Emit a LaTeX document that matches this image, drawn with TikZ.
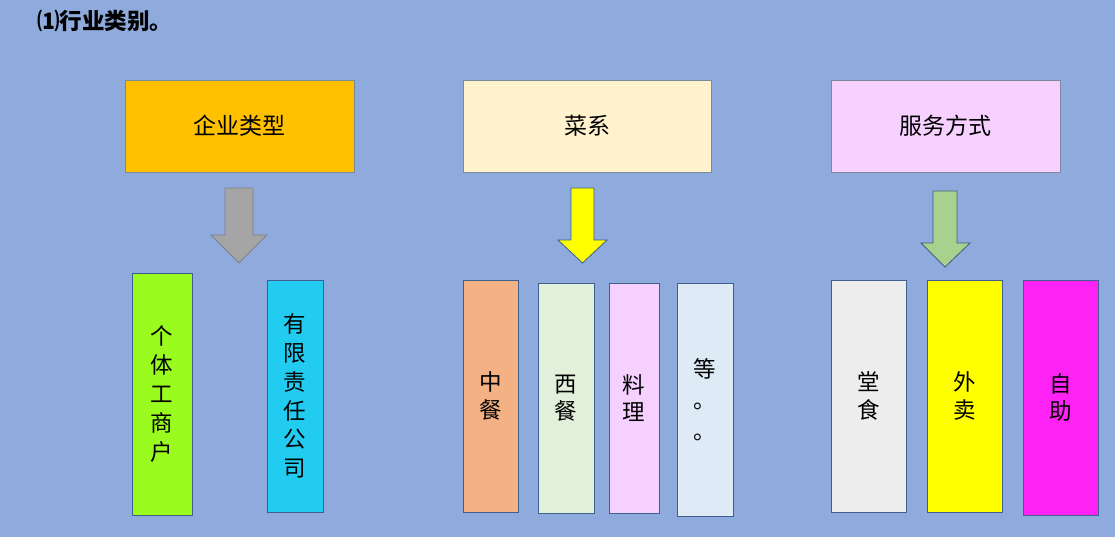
\documentclass[tikz,border=0pt]{standalone}
\usepackage{fontspec}
\newfontfamily\cjk{Noto Sans CJK SC}
\begin{document}
\begin{tikzpicture}[x=1pt,y=-1pt,
  every node/.style={font=\cjk},
  topbox/.style={draw=#1, line width=0.8pt, minimum width=229pt, minimum height=92pt, inner sep=0pt, font=\cjk\fontsize{23}{26}\selectfont},
  topbox/.default={black!45!blue!30!gray},
  colbox/.style={draw=boxline, line width=0.8pt, inner sep=0pt, align=center, font=\cjk\fontsize{22.5}{28.8}\selectfont},
  twochar/.style={font=\cjk\fontsize{22.5}{27.5}\selectfont},
  blockarrow/.style={line width=0.8pt, line join=miter}
]
\definecolor{bg}{HTML}{8FAADC}
\definecolor{boxline}{HTML}{3F5F8F}
\definecolor{topline}{HTML}{7A8A9A}
\definecolor{cOrange}{HTML}{FFC000}
\definecolor{cCream}{HTML}{FFF2CC}
\definecolor{cLilac}{HTML}{F6D0FE}
\definecolor{cLime}{HTML}{99FC1E}
\definecolor{cCyan}{HTML}{22CCF0}
\definecolor{cSalmon}{HTML}{F4B183}
\definecolor{cMint}{HTML}{E2EFDA}
\definecolor{cIce}{HTML}{DEEBF7}
\definecolor{cGrey}{HTML}{EDEDED}
\definecolor{cYellow}{HTML}{FFFF00}
\definecolor{cMagenta}{HTML}{FF22F5}
\definecolor{aGrey}{HTML}{A5A5A5}
\definecolor{aGreyLine}{HTML}{7F7F8A}
\definecolor{aGreen}{HTML}{A9D18E}
\definecolor{aLine}{HTML}{3F5F7F}

\useasboundingbox (0,0) rectangle (1115,537);
\fill[bg] (0,0) rectangle (1115,537);

% title
\node[anchor=west, font=\cjk\bfseries\fontsize{22.5}{26}\selectfont, inner sep=0pt] (title) at (37,21) {⑴行业类别。};

% top boxes
\node[topbox=topline, fill=cOrange] (qiye) at (239.5,126) {企业类型};
\node[topbox=topline, fill=cCream, minimum width=248pt] (caixi) at (587,126) {菜系};
\node[topbox=topline, fill=cLilac] (fuwu) at (945.5,126) {服务方式};

% block arrows
\draw[blockarrow, fill=aGrey, draw=aGreyLine]
  (225,188) -- (253,188) -- (253,235) -- (267,235) -- (239,263) -- (211,235) -- (225,235) -- cycle;
\draw[blockarrow, fill=cYellow, draw=aLine]
  (571,188) -- (594,188) -- (594,240) -- (607,240) -- (582.5,263) -- (558,240) -- (571,240) -- cycle;
\draw[blockarrow, fill=aGreen, draw=aLine]
  (933,191) -- (957,191) -- (957,243) -- (970,243) -- (945,267) -- (921,243) -- (933,243) -- cycle;

% bottom boxes
\node[colbox, fill=cLime, minimum width=60pt, minimum height=242pt] (geti) at (162,394) {个\\体\\工\\商\\户};
\node[colbox, fill=cCyan, minimum width=56pt, minimum height=232pt] (youxian) at (295,396) {有\\限\\责\\任\\公\\司};

\node[colbox, twochar, fill=cSalmon, minimum width=55pt, minimum height=232pt] (zhong) at (490.5,396) {中\\餐};
\node[colbox, twochar, fill=cMint, minimum width=56pt, minimum height=230pt] (xi) at (566,398) {西\\餐};
\node[colbox, twochar, fill=cLilac, minimum width=50pt, minimum height=230pt] (liao) at (634,398) {料\\理};
\node[colbox, fill=cIce, minimum width=56pt, minimum height=233pt, font=\cjk\fontsize{22.5}{31}\selectfont] (deng) at (705,399.5) {等\\。\\。};

\node[colbox, twochar, fill=cGrey, minimum width=75pt, minimum height=232pt] (tang) at (869,396) {堂\\食};
\node[colbox, twochar, fill=cYellow, minimum width=75pt, minimum height=232pt] (wai) at (964.5,396) {外\\卖};
\node[colbox, twochar, fill=cMagenta, minimum width=75pt, minimum height=235pt] (zi) at (1060.5,397.5) {自\\助};
\end{tikzpicture}
\end{document}
